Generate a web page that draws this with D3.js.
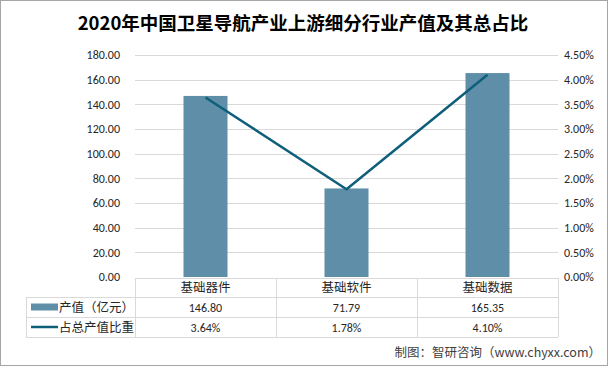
<!DOCTYPE html>
<html><head><meta charset="utf-8">
<script src="https://cdn.jsdelivr.net/npm/d3@7"></script>
<style>
html,body{margin:0;padding:0;background:#fff;}
svg{display:block;font-family:"Microsoft YaHei","Noto Sans CJK SC",sans-serif;}
</style></head><body>
<svg id="c" width="608" height="366"></svg>
<script>
const categories = ["基础器件", "基础软件", "基础数据"];
const values = [146.80, 71.79, 165.35];
const shares = [3.64, 1.78, 4.10];
const leftTicks = [0, 20, 40, 60, 80, 100, 120, 140, 160, 180];
const rightTicks = [0, 0.5, 1, 1.5, 2, 2.5, 3, 3.5, 4, 4.5];
const seriesNames = ["产值（亿元）", "占总产值比重"];
const title = "2020年中国卫星导航产业上游细分行业产值及其总占比";
const source = "制图：智研咨询（www.chyxx.com）";

const svg = d3.select("#c");
const W = 608, H = 366;
const barColor = "#5f8fa8", lineColor = "#0f5f7a", gridColor = "#d9d9d9", textColor = "#262626";
const numFont = "Calibri,Carlito,'Liberation Sans',sans-serif";

svg.append("rect").attr("x",0.5).attr("y",0.5).attr("width",W-1).attr("height",H-1)
  .attr("fill","#fff").attr("stroke","#a6a6a6").attr("stroke-width",1);

svg.append("text").attr("x",303).attr("y",30).attr("text-anchor","middle")
  .attr("font-size",18.5).attr("font-weight","bold").attr("fill","#000").text(title);

const x0 = 135, x1 = 558, yTop = 55, yBot = 277;
const x = d3.scaleBand().domain(categories).range([x0,x1]).paddingInner(0).paddingOuter(0);
const y = d3.scaleLinear().domain([0,180]).range([yBot,yTop]);
const y2 = d3.scaleLinear().domain([0,4.5]).range([yBot,yTop]);

svg.append("g").selectAll("line").data(leftTicks.slice(1)).join("line")
  .attr("x1",x0).attr("x2",x1).attr("y1",d=>Math.round(y(d))+0.5).attr("y2",d=>Math.round(y(d))+0.5)
  .attr("stroke",gridColor).attr("stroke-width",1);

const la = svg.append("g").attr("transform",`translate(${x0},0)`)
  .call(d3.axisLeft(y).tickValues(leftTicks).tickFormat(d3.format(".2f")).tickSize(0).tickPadding(15));
la.select(".domain").remove();
la.selectAll("text").attr("font-size",12).attr("fill",textColor).attr("font-family",numFont);

const ra = svg.append("g").attr("transform",`translate(${x1},0)`)
  .call(d3.axisRight(y2).tickValues(rightTicks).tickFormat(d=>d.toFixed(2)+"%").tickSize(0).tickPadding(6));
ra.select(".domain").remove();
ra.selectAll("text").attr("font-size",12).attr("fill",textColor).attr("font-family",numFont);

const bw = 44;
svg.append("g").selectAll("rect").data(values).join("rect")
  .attr("x",(d,i)=>x(categories[i])+x.bandwidth()/2-bw/2)
  .attr("width",bw)
  .attr("y",d=>y(d)).attr("height",d=>yBot-y(d))
  .attr("fill",barColor);

const line = d3.line().x((d,i)=>x(categories[i])+x.bandwidth()/2).y(d=>y2(d));
svg.append("path").datum(shares).attr("d",line).attr("fill","none")
  .attr("stroke",lineColor).attr("stroke-width",2.5).attr("stroke-linejoin","round");

const tL = 26, rows = [278, 297, 317, 337];
const tg = svg.append("g");
const hl = (x1_,x2_,yy)=>tg.append("line").attr("x1",x1_).attr("x2",x2_).attr("y1",yy+0.5).attr("y2",yy+0.5).attr("stroke",gridColor);
const vl = (xx,y1_,y2_)=>tg.append("line").attr("x1",xx+0.5).attr("x2",xx+0.5).attr("y1",y1_).attr("y2",y2_).attr("stroke",gridColor);
hl(x0,x1,rows[0]); hl(tL,x1,rows[1]); hl(tL,x1,rows[2]); hl(tL,x1,rows[3]);
vl(tL,rows[1],rows[3]);
[x0, ...categories.map(c=>x(c)+x.bandwidth())].forEach(xx=>vl(Math.round(xx),rows[0],rows[3]));

const cellFont = 12.5;
tg.selectAll(".hd").data(categories).join("text")
  .attr("x",d=>x(d)+x.bandwidth()/2).attr("y",(rows[0]+rows[1])/2+4.5)
  .attr("text-anchor","middle").attr("font-size",cellFont).attr("fill",textColor).text(d=>d);
tg.selectAll(".v1").data(values).join("text")
  .attr("x",(d,i)=>x(categories[i])+x.bandwidth()/2).attr("y",(rows[1]+rows[2])/2+4.5)
  .attr("text-anchor","middle").attr("font-size",12).attr("fill",textColor)
  .attr("font-family",numFont).text(d=>d.toFixed(2));
tg.selectAll(".v2").data(shares).join("text")
  .attr("x",(d,i)=>x(categories[i])+x.bandwidth()/2).attr("y",(rows[2]+rows[3])/2+4.5)
  .attr("text-anchor","middle").attr("font-size",12).attr("fill",textColor)
  .attr("font-family",numFont).text(d=>d.toFixed(2)+"%");

const r1c = (rows[1]+rows[2])/2, r2c = (rows[2]+rows[3])/2;
tg.append("rect").attr("x",31).attr("y",r1c-3.5).attr("width",27).attr("height",7).attr("fill",barColor);
tg.append("line").attr("x1",31).attr("x2",58).attr("y1",r2c).attr("y2",r2c).attr("stroke",lineColor).attr("stroke-width",2.5);
tg.append("text").attr("x",59).attr("y",r1c+4.5).attr("font-size",cellFont).attr("fill",textColor).text(seriesNames[0]);
tg.append("text").attr("x",59).attr("y",r2c+4.5).attr("font-size",cellFont).attr("fill",textColor).text(seriesNames[1]);

svg.append("text").attr("x",601).attr("y",357).attr("text-anchor","end")
  .attr("font-size",12.5).attr("fill","#404040").text(source);
</script></body></html>
